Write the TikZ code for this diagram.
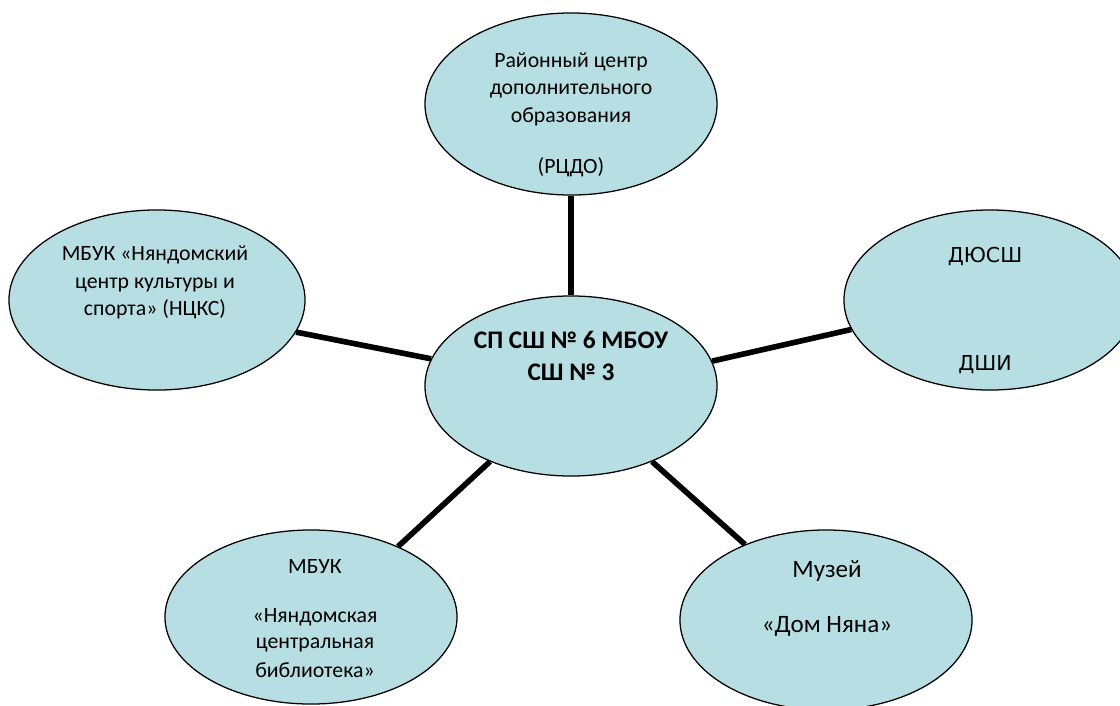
\documentclass[tikz,border=0pt]{standalone}
\usepackage{fontspec}
\setmainfont{Carlito}
\newfontfamily\djv{DejaVu Sans}
\usetikzlibrary{shapes.geometric}
\definecolor{bubble}{HTML}{B7DEE2}
\begin{document}
\begin{tikzpicture}
    [x=0.025cm, y=-0.025cm,
    org/.style = {ellipse, draw, line width=0.9pt, fill=bubble,
                  inner sep=0pt, minimum width=7.3cm, minimum height=4.5cm},
    link/.style = {line width=4pt},
    txt/.style = {anchor=base, inner sep=0pt, font=\fontsize{15.5}{18}\selectfont}]
    \clip (0,0) rectangle (1120,705);
    % Ellipses
    \node[org] (C) at (571,386) {};
    \node[org, minimum height=4.55cm] (T) at (571,104) {};
    \node[org, minimum width=7.4cm] (L) at (157,300) {};
    \node[org] (R) at (990,300) {};
    \node[org, minimum height=4.35cm] (BL) at (311,617) {};
    \node[org] (BR) at (826,620) {};
    % Connectors
    \draw[link] (T.south) -- (C.north);
    \draw[link] (L.-13.6) -- (C.169.7);
    \draw[link] (R.192.6) -- (C.10.7);
    \draw[link] (BL.39.8) -- (C.223.3);
    \draw[link] (BR.137.5) -- (C.-43.3);
    % Centre
    \node[txt, font=\fontsize{18}{21}\selectfont\bfseries] (c1) at (571,348) {СП СШ № 6 МБОУ};
    \node[txt, font=\fontsize{18}{21}\selectfont\bfseries] (c2) at (571,380) {СШ № 3};
    % РЦДО
    \node[txt] (t1) at (571,67) {Районный центр};
    \node[txt] (t2) at (571,94) {дополнительного};
    \node[txt] (t3) at (571,122) {образования};
    \node[txt] (t4) at (571,173) {(РЦДО)};
    % НЦКС
    \node[txt] (l1) at (155,260) {МБУК «Няндомский};
    \node[txt] (l2) at (155,288) {центр культуры и};
    \node[txt] (l3) at (155,315) {спорта» (НЦКС)};
    % ДЮСШ, ДШИ
    \node[txt, font=\djv\fontsize{14.6}{18}\selectfont] (r1) at (985,262) {ДЮСШ};
    \node[txt, font=\djv\fontsize{14.6}{18}\selectfont] (r2) at (985,370) {ДШИ};
    % Библиотека
    \node[txt] (b1) at (315,573) {МБУК};
    \node[txt] (b2) at (315,622) {«Няндомская};
    \node[txt] (b3) at (315,648) {центральная};
    \node[txt] (b4) at (315,677) {библиотека»};
    % Музей
    \node[txt, font=\fontsize{17.8}{21}\selectfont] (m1) at (827,577) {Музей};
    \node[txt, font=\fontsize{17.8}{21}\selectfont] (m2) at (827,632) {«Дом Няна»};
\end{tikzpicture}
\end{document}
